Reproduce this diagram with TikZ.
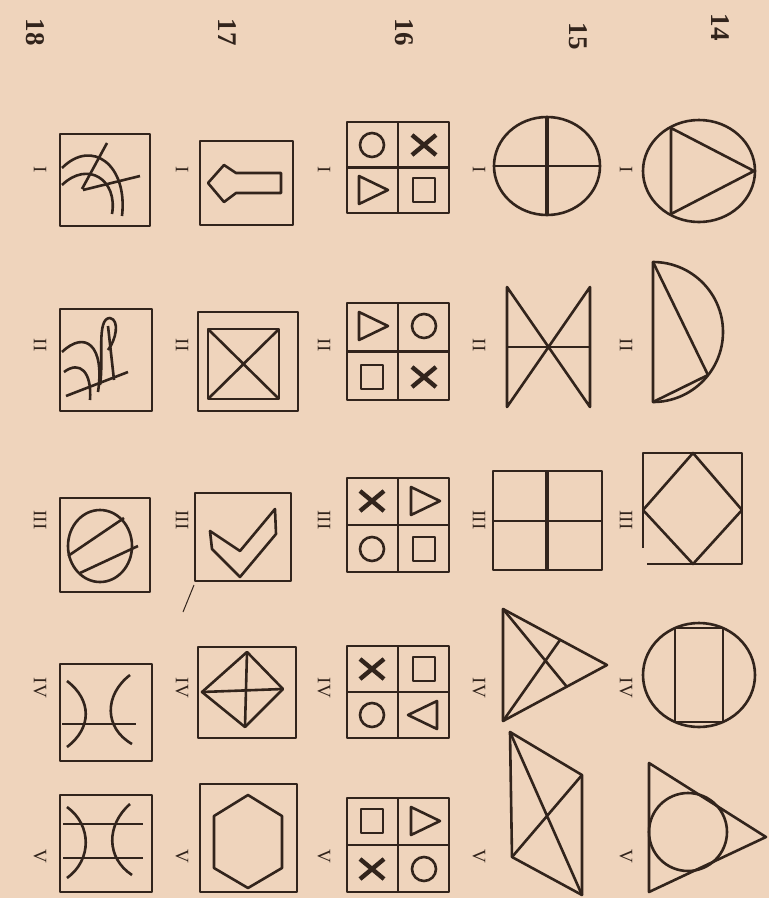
\documentclass[tikz,border=0pt]{standalone}
\usepackage{fontspec}
\setmainfont{Liberation Serif}
\definecolor{paper}{RGB}{239,212,188}
\definecolor{ink}{RGB}{50,36,28}
\tikzset{
  fig/.style={
    draw = ink,
    line width = 2.6pt,
    line join = round
  },
  thickfig/.style={
    fig,
    line width = 3.6pt
  },
  numeral/.style={
    rotate = -90,
    text = ink,
    inner sep = 0pt,
    font = \fontsize{19}{19}\selectfont
  },
  rownum/.style={
    rotate = -90,
    text = ink,
    inner sep = 0pt,
    font = \bfseries\fontsize{27}{27}\selectfont
  }
}
\newcommand{\cellO}[2]{\draw[fig] (#1,#2) circle[radius=12];}
\newcommand{\cellX}[2]{\draw[fig,line width=4.4pt] (#1-12,#2-10) -- (#1+12,#2+10) (#1-12,#2+10) -- (#1+12,#2-10);}
\newcommand{\cellS}[2]{\draw[fig] (#1-11,#2-12) rectangle (#1+11,#2+12);}
\newcommand{\cellR}[2]{\draw[fig] (#1-13,#2-14) -- (#1+16,#2) -- (#1-13,#2+14) -- cycle;}
\newcommand{\cellL}[2]{\draw[fig] (#1+13,#2-14) -- (#1-16,#2) -- (#1+13,#2+14) -- cycle;}

\begin{document}
\begin{tikzpicture}[x=1pt,y=-1pt]
\fill[paper] (0,0) rectangle (769,898);
\useasboundingbox (0,0) rectangle (769,898);

\foreach \n/\x/\y in {14/720/27,15/578/36,16/404/32,17/227/32,18/35/32}
  \node[rownum] (n\n) at (\x,\y) {\n};
\foreach \x/\c in {626/14,479/15,324/16,182/17,40/18}
  \foreach \y/\r in {170/I,345/II,520/III,688/IV,856/V}
    \node[numeral] (\c-\r) at (\x,\y) {\r};

% 14
\draw[fig] (699,171) ellipse[x radius=56, y radius=51];
\draw[fig] (671,128) -- (754,171) -- (671,214) -- cycle;
\draw[fig] (653,262) arc[start angle=-90, end angle=90, radius=70] -- cycle;
\draw[fig] (653,262) -- (708,375) -- (653,402);
\draw[fig] (643,548) -- (643,453) -- (742,453) -- (742,564) -- (647,564);
\draw[fig] (693,453) -- (742,510) -- (693,564) -- (643,510) -- cycle;
\draw[fig] (699,675) ellipse[x radius=56, y radius=52];
\draw[fig] (675,628) rectangle (723,722);
\draw[fig] (649,763) -- (766,837) -- (649,892) -- cycle;
\draw[fig] (688,832) circle[radius=39];

% 15
\draw[fig] (547,166) ellipse[x radius=53, y radius=49];
\draw[fig] (494,166) -- (600,166);
\draw[thickfig] (547,117) -- (547,215);
\draw[fig] (507,287) -- (507,407) -- (590,287) -- (590,407) -- cycle;
\draw[fig] (507,347) -- (590,347);
\draw[fig] (493,471) rectangle (602,570);
\draw[fig] (493,521) -- (602,521);
\draw[thickfig] (547,471) -- (547,570);
\draw[fig] (503,609) -- (607,665) -- (503,721) -- cycle;
\draw[fig] (503,609) -- (567,687) (503,721) -- (560,640);
\draw[fig] (510,732) -- (582,775) -- (582,895) -- (512,857) -- cycle;
\draw[fig] (510,732) -- (582,895) (512,857) -- (582,775);

% 16
\foreach \ya/\yb/\p/\q/\r/\s in {122/213/O/X/R/S,303/400/R/O/S/X,478/572/X/R/O/S,646/738/X/S/O/L,798/892/S/R/X/O}{
  \draw[fig] (347,\ya) rectangle (449,\yb);
  \draw[fig] (398,\ya) -- (398,\yb) (347,{(\ya+\yb)/2}) -- (449,{(\ya+\yb)/2});
  \csname cell\p\endcsname{372}{\ya+23}
  \csname cell\q\endcsname{424}{\ya+23}
  \csname cell\r\endcsname{372}{\yb-23}
  \csname cell\s\endcsname{424}{\yb-23}
}

% 17
\draw[fig] (200,141) rectangle (293,225);
\draw[fig] (208,183) -- (224,165) -- (236,173) -- (281,173) -- (281,193) -- (236,193) -- (224,202) -- cycle;
\draw[fig] (198,312) rectangle (298,411);
\draw[fig] (208,329) rectangle (279,399);
\draw[fig] (208,329) -- (279,399) (208,399) -- (279,329);
\draw[fig] (195,493) rectangle (291,581);
\draw[fig] (210,531) -- (240,551) -- (275,509) -- (276,534) -- (240,577) -- (212,549) -- cycle;
\draw[fig] (198,647) rectangle (296,738);
\draw[fig] (202,692) -- (247,652) -- (283,689) -- (245,727) -- cycle;
\draw[fig] (202,692) -- (283,689) (247,652) -- (245,727);
\draw[fig] (200,784) rectangle (297,892);
\draw[fig] (248,795) -- (282,816) -- (282,868) -- (248,888) -- (214,868) -- (214,816) -- cycle;
\draw[ink, line width=1pt] (183,612) -- (194,585);

% 18
\draw[fig] (60,134) rectangle (150,226);
\draw[fig] (62,168) .. controls (92,138) and (128,165) .. (122,216);
\draw[fig] (62,185) .. controls (88,160) and (118,180) .. (112,214);
\draw[fig] (83,190) -- (140,176) (82,189) -- (107,143);
\draw[fig] (60,309) rectangle (152,411);
\draw[fig] (62,352) .. controls (85,330) and (105,345) .. (98,392);
\draw[fig] (64,372) .. controls (80,360) and (92,372) .. (90,400);
\draw[fig] (66,396) -- (128,372);
\draw[fig] (100,385) .. controls (104,360) and (96,318) .. (110,318) .. controls (120,320) and (116,340) .. (108,350);
\draw[fig] (108,326) -- (114,380);
\draw[fig] (60,498) rectangle (150,592);
\draw[fig] (100,546) ellipse[x radius=32, y radius=36];
\draw[fig] (68,556) -- (124,518) (80,573) -- (138,546);
\draw[fig] (60,664) rectangle (152,761);
\draw[fig] (67,681) .. controls (92,700) and (92,728) .. (67,747);
\draw[fig] (130,675) .. controls (104,695) and (104,728) .. (132,744);
\draw[fig] (62,724) -- (136,724);
\draw[fig] (60,795) rectangle (152,892);
\draw[fig] (67,807) .. controls (92,825) and (92,860) .. (67,878);
\draw[fig] (130,804) .. controls (106,825) and (106,858) .. (132,875);
\draw[fig] (63,824) -- (143,824) (63,858) -- (143,858);
\end{tikzpicture}
\end{document}
